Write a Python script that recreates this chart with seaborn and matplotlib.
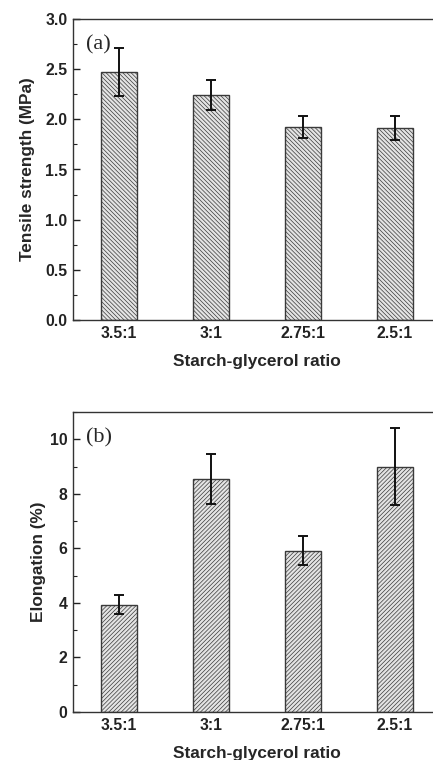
import matplotlib
matplotlib.use("Agg")
import matplotlib.pyplot as plt
from matplotlib.ticker import MultipleLocator
import seaborn as sns

# values
ratios = ["3.5:1", "3:1", "2.75:1", "2.5:1"]
tensile = [2.47, 2.24, 1.92, 1.91]
tensile_err = [0.24, 0.15, 0.11, 0.12]
elongation = [3.94, 8.54, 5.92, 9.00]
elongation_err = [0.36, 0.93, 0.53, 1.40]

sns.set_theme(style="ticks")
plt.rcParams['font.family'] = ['Liberation Sans', 'DejaVu Sans']
plt.rcParams['hatch.linewidth'] = 0.5

fig = plt.figure(figsize=(4.33, 7.6), dpi=100)
W, H = 433, 760


def px_axes(left, top, right, bottom):
    return fig.add_axes([left / W, 1 - bottom / H, (right - left) / W, (bottom - top) / H])


ax1 = px_axes(73, 19, 441, 320)
ax2 = px_axes(73, 412, 441, 712)


def draw_panel(ax, vals, errs, hatch, ylim, major, minor, ylabel, tag, ylabpad):
    sns.barplot(x=ratios, y=vals, ax=ax, color="#e4e4e4", edgecolor="#3a3a3a",
                linewidth=1.0, width=0.4, hatch=hatch, saturation=1)
    ax.errorbar(range(len(ratios)), vals, yerr=errs, fmt="none", ecolor="#111111",
                elinewidth=1.4, capsize=3.5, capthick=1.4)
    ax.set_xlim(-0.5, 3.5)
    ax.set_ylim(*ylim)
    ax.yaxis.set_major_locator(MultipleLocator(major))
    ax.yaxis.set_minor_locator(MultipleLocator(minor))
    ax.tick_params(axis="both", which="both", direction="in", colors="#222222")
    ax.tick_params(axis="both", which="major", length=5, width=1.0, labelsize=11.3, pad=4)
    ax.tick_params(axis="y", which="minor", length=3, width=0.8)
    for lbl in ax.get_xticklabels() + ax.get_yticklabels():
        lbl.set_fontweight("bold")
    for s in ["left", "bottom", "top"]:
        ax.spines[s].set_color("#333333")
        ax.spines[s].set_linewidth(1.0)
    ax.spines["right"].set_visible(False)
    ax.set_ylabel(ylabel, fontsize=12.4, fontweight="bold", labelpad=ylabpad)
    ax.set_xlabel("Starch-glycerol ratio", fontsize=12.4, fontweight="bold", labelpad=10)
    ax.text(0.035, 0.945, tag, transform=ax.transAxes, fontsize=16,
            family=["Liberation Serif", "DejaVu Serif"], va="top", ha="left")


draw_panel(ax1, tensile, tensile_err, "\\\\\\\\\\\\\\\\", (0, 3.0), 0.5, 0.25,
           "Tensile strength (MPa)", "(a)", 7)
draw_panel(ax2, elongation, elongation_err, "////////", (0, 11), 2, 1,
           "Elongation (%)", "(b)", 3)

fig.savefig("out.png", dpi=100)
